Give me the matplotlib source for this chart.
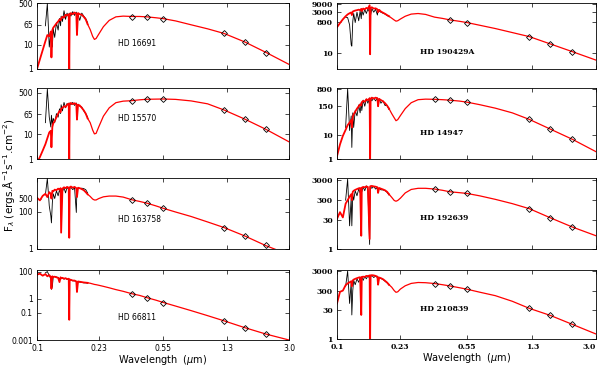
import numpy as np
import matplotlib
matplotlib.use('Agg')
from matplotlib import pyplot as plt

# wavelength grids (micron)
uv_w = [0.100, 0.104, 0.108, 0.112, 0.115, 0.118, 0.1205, 0.1215, 0.123, 0.1245,
        0.127, 0.130, 0.133, 0.1355, 0.1375, 0.1385, 0.141, 0.144, 0.147, 0.150,
        0.1535, 0.1545, 0.1555, 0.158, 0.162, 0.166, 0.170, 0.1715, 0.174, 0.178,
        0.183, 0.188, 0.193, 0.198]
obs_w = uv_w[3:]
cont_w = [0.205, 0.212, 0.217, 0.222, 0.23, 0.245, 0.265, 0.29, 0.32, 0.36, 0.40,
          0.44, 0.50, 0.55, 0.65, 0.80, 1.0, 1.25, 1.65, 2.2, 3.0]
phot_w = [0.36, 0.44, 0.55, 1.25, 1.65, 2.2]

stars = ['HD 16691', 'HD 15570', 'HD 163758', 'HD 66811',
         'HD 190429A', 'HD 14947', 'HD 192639', 'HD 210839']

# model (red) fluxes, UV part
uv_16691 = [1.0, 2.5, 6, 14, 25, 22, 35, 3, 40, 50, 60, 75, 90, 110, 100, 120, 140, 130, 170, 160,
            180, 0.8, 170, 200, 180, 210, 190, 25, 200, 180, 170, 140, 110, 70]
uv_15570 = [0.7, 1.2, 2.2, 4, 7, 12, 14, 3, 20, 28, 35, 50, 70, 90, 80, 110, 120, 140, 130, 160,
            180, 0.8, 170, 190, 170, 185, 170, 40, 160, 150, 120, 95, 70, 45]
uv_163758 = [550, 400, 700, 900, 600, 1100, 900, 500, 1300, 1200, 1500, 1400, 1700, 1500, 1800, 7.5,
             1700, 2000, 1800, 2100, 1900, 4, 2000, 2200, 1900, 2100, 1800, 600, 1900, 1800, 1600,
             1400, 1100, 850]
uv_66811 = [60, 70, 50, 65, 45, 55, 40, 5.6, 45, 40, 42, 38, 35, 17, 38, 32, 35, 30, 33, 28,
            30, 0.03, 26, 25, 22, 22, 19, 3.2, 19, 18, 17, 16, 15.5, 15]
uv_190429 = [360, 650, 1100, 1700, 2200, 2600, 2900, 2000, 3300, 3500, 3800, 4000, 4300, 4000, 4800,
             3500, 5000, 4500, 5500, 5000, 8000, 8, 5500, 6000, 5000, 5200, 4500, 3000, 4200, 3300,
             2800, 2400, 2000, 1700]
uv_14947 = [1.3, 4, 9, 16, 25, 32, 40, 20, 55, 70, 90, 120, 150, 180, 160, 220, 250, 230, 290, 270,
            320, 0.9, 300, 340, 310, 340, 320, 150, 300, 270, 240, 200, 160, 120]
uv_192639 = [34, 74, 40, 200, 300, 450, 600, 300, 800, 900, 1000, 1100, 1200, 1250, 4.7, 1300, 1400,
             1350, 1500, 1400, 3.2, 1500, 1550, 1580, 1500, 1450, 1350, 700, 1250, 1150, 1050, 950,
             800, 600]
uv_210839 = [66, 260, 300, 570, 700, 800, 900, 500, 1000, 1100, 1200, 1300, 1400, 1450, 17, 1500,
             1550, 1500, 1700, 1650, 1800, 0.9, 1800, 1850, 1800, 1700, 1550, 600, 1400, 1300, 1150,
             950, 780, 600]

# model (red) fluxes, continuum part
cont_16691 = [42, 22, 16.5, 18, 27, 55, 100, 140, 150, 145, 145, 140, 128, 118, 95, 66, 45, 29, 13, 4.8, 1.55]
cont_15570 = [30, 15, 10.5, 11, 20, 55, 120, 195, 225, 235, 255, 268, 272, 275, 265, 230, 175, 98, 42, 16, 5]
cont_163758 = [650, 470, 420, 420, 500, 620, 680, 680, 600, 430, 350, 285, 200, 150, 95, 55, 28, 14, 5, 1.5, 0.5]
cont_66811 = [14, 12.5, 11.5, 11, 10, 8.3, 6.5, 4.8, 3.6, 2.4, 1.8, 1.25, 0.8, 0.55, 0.3, 0.14, 0.06,
              0.025, 0.008, 0.0027, 0.001]
cont_190429 = [1300, 1000, 850, 900, 1150, 1700, 2300, 2500, 2200, 1500, 1250, 1020, 830, 700, 480, 300,
               170, 96, 34, 11.5, 3.5]
cont_14947 = [75, 50, 38, 42, 62, 120, 210, 280, 295, 290, 280, 268, 245, 222, 175, 125, 80, 43, 17, 6.5, 2.0]
cont_192639 = [420, 290, 265, 290, 380, 700, 1050, 1200, 1200, 1100, 950, 800, 720, 660, 500, 330, 200,
               111, 38, 13, 4.7]
cont_210839 = [450, 300, 245, 260, 360, 530, 700, 780, 760, 690, 600, 520, 420, 355, 250, 165, 85, 37,
               16, 5.6, 1.8]

# observed UV spectra (black)
obs_16691 = [60, 500, 8, 30, 9, 8, 45, 20, 80, 40, 120, 60, 150, 90, 250, 110, 200, 130, 60, 200, 150,
             230, 160, 220, 90, 180, 100, 200, 150, 120, 80]
obs_15570 = [30, 700, 50, 20, 60, 25, 45, 30, 70, 50, 110, 70, 160, 90, 200, 120, 180, 150, 100, 190,
             160, 200, 150, 190, 100, 170, 140, 130, 90, 70, 50]
obs_163758 = [800, 6000, 200, 60, 25, 300, 900, 500, 1300, 700, 1500, 900, 1600, 1200, 1900, 1000, 2000,
              1500, 1800, 1700, 2000, 1500, 1900, 90, 1700, 1800, 1700, 1800, 1700, 1500, 1000]
obs_66811 = [80, 100, 50, 30, 5, 8, 40, 45, 40, 36, 30, 35, 30, 34, 28, 32, 27, 29, 10, 25, 24, 21, 21,
             18, 8, 18, 17, 16, 15, 15, 14]
obs_190429 = [1500, 1400, 500, 30, 25, 800, 2500, 700, 3000, 900, 3500, 1200, 4000, 2000, 4500, 2500,
              4800, 3000, 5000, 2000, 5000, 3000, 4500, 2000, 4000, 3500, 3000, 2600, 2300, 1900, 1600]
obs_14947 = [20, 800, 15, 60, 3, 80, 20, 100, 60, 170, 80, 220, 100, 270, 150, 300, 200, 330, 200, 320,
             250, 330, 250, 330, 200, 310, 200, 250, 160, 160, 110]
obs_192639 = [300, 3500, 15, 400, 15, 600, 300, 900, 500, 1100, 700, 1200, 800, 1400, 900, 1600, 1000,
              1.7, 1300, 1400, 1200, 1500, 1100, 1300, 1000, 1200, 1000, 1000, 900, 750, 550]
obs_210839 = [500, 3000, 66, 800, 17, 300, 1000, 600, 1200, 800, 1400, 900, 1500, 1000, 1600, 1200, 1700,
              1300, 1750, 1500, 1800, 1400, 1650, 1400, 1500, 1300, 1250, 1100, 900, 750, 580]

# photometry (U B V J H K), None = missing
phot_16691 = [139, 139, 115, 29, 12.4, 4.7]
phot_15570 = [235, 268, 275, 98, 41, 16]
phot_163758 = [420, 280, 150, 14, 5, 1.6]
phot_66811 = [2.4, 1.23, 0.53, 0.025, 0.008, 0.0026]
phot_190429 = [None, 1020, 700, 96, 34, 11.5]
phot_14947 = [290, 268, 222, 43, 17, 6.8]
phot_192639 = [1100, 800, 660, 111, 38, 13]
phot_210839 = [690, 520, 355, 37, 16, 5.8]

# axis limits and tick labels
ylims = [(1, 520), (1, 770), (1, 6300), (0.001, 130),
         (1, 11000), (1, 850), (1, 4000), (1, 3400)]
yticks = [[1, 10, 65, 500], [1, 10, 65, 500], [1, 100, 500], [0.001, 0.1, 1, 100],
          [10, 800, 3000, 9000], [1, 10, 150, 800], [1, 30, 300, 3000], [1, 30, 300, 3000]]
ytick_labels = [['1', '10', '65', '500'], ['1', '10', '65', '500'], ['1', '100', '500'],
                ['0.001', '0.1', '1', '100'],
                ['10', '800', '3000', '9000'], ['1', '10', '150', '800'], ['1', '30', '300', '3000'],
                ['1', '30', '300', '3000']]
xticks = [0.1, 0.23, 0.55, 1.3, 3.0]
xtick_labels = ['0.1', '0.23', '0.55', '1.3', '3.0']

uv_all = [uv_16691, uv_15570, uv_163758, uv_66811, uv_190429, uv_14947, uv_192639, uv_210839]
cont_all = [cont_16691, cont_15570, cont_163758, cont_66811, cont_190429, cont_14947, cont_192639, cont_210839]
obs_all = [obs_16691, obs_15570, obs_163758, obs_66811, obs_190429, obs_14947, obs_192639, obs_210839]
phot_all = [phot_16691, phot_15570, phot_163758, phot_66811, phot_190429, phot_14947, phot_192639, phot_210839]

fig = plt.figure(figsize=(6, 3.7), dpi=100)

# axes boxes in pixels: (left, top, right, bottom)
boxes = [(37, 3, 289, 69), (37, 88, 289, 159), (37, 178, 289, 249), (37, 270, 289, 340),
         (337, 3, 596, 69), (337, 88, 596, 159), (337, 178, 596, 249), (337, 270, 596, 339)]
label_pos = [(0.32, 0.39), (0.32, 0.57), (0.32, 0.42), (0.32, 0.32),
             (0.32, 0.26), (0.32, 0.36), (0.32, 0.43), (0.32, 0.44)]

for i in range(8):
    l, t, r, b = boxes[i]
    ax = fig.add_axes([l / 600, 1 - b / 370, (r - l) / 600, (b - t) / 370])
    right = i >= 4
    if right:
        tfont = dict(family='DejaVu Serif', weight='bold', size=5.5)
    else:
        tfont = dict(family='DejaVu Sans', size=5.5)

    ax.plot(obs_w, obs_all[i], color='black', lw=0.6, zorder=1)
    # noisy UV band drawn a bit thicker than the smooth model continuum
    ax.plot(uv_w, uv_all[i], color='red', lw=1.3, zorder=2)
    ax.plot(uv_w[-1:] + cont_w, uv_all[i][-1:] + cont_all[i], color='red', lw=0.9, zorder=2)
    pf = [np.nan if v is None else v for v in phot_all[i]]
    ax.plot(phot_w, pf, 'D', ms=3, mfc='none', mec='black', mew=0.6, zorder=3)

    ax.set_xscale('log')
    ax.set_yscale('log')
    ax.set_xlim(0.1, 3.0)
    ax.set_ylim(*ylims[i])
    ax.minorticks_off()
    ax.set_xticks(xticks)
    ax.set_yticks(yticks[i])
    ax.set_yticklabels(ytick_labels[i], fontdict=tfont)
    if i in (3, 7):
        labs = ax.set_xticklabels(xtick_labels, fontdict=tfont)
        if i == 7:
            labs[-1].set_horizontalalignment('right')
        ax.set_xlabel(r'Wavelength  ($\mu$m)', fontsize=7, family='DejaVu Sans', labelpad=0)
    else:
        ax.set_xticklabels([])
    ax.tick_params(direction='in', length=3, width=0.5, top=True, right=True, pad=3)
    for s in ax.spines.values():
        s.set_linewidth(0.6)

    ax.text(label_pos[i][0], label_pos[i][1], stars[i], transform=ax.transAxes,
            va='center', ha='left', **tfont)

fig.text(0.015, 0.527, 'F$_\\lambda$ (ergs.Å$^{-1}$s$^{-1}$.cm$^{-2}$)', rotation=90,
         va='center', ha='center', fontsize=7.5, family='DejaVu Sans')

fig.savefig('out.png', dpi=100)
